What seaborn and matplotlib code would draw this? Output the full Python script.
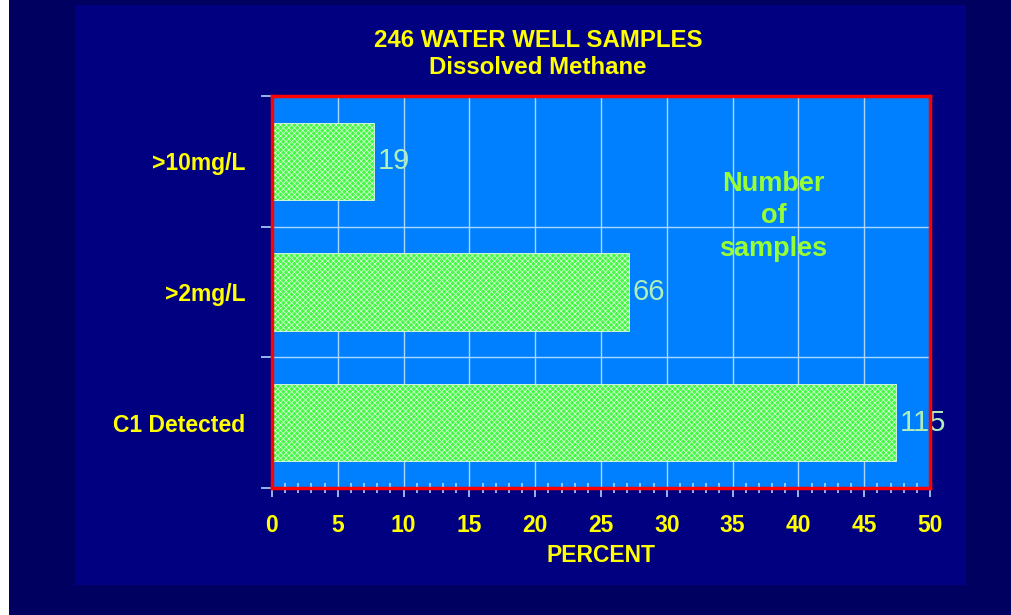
import matplotlib
matplotlib.use("Agg")
import matplotlib.pyplot as plt
import seaborn as sns
import pandas as pd
from matplotlib.patches import Rectangle
from matplotlib.ticker import MultipleLocator, FixedLocator

# data
kategori = [">10mg/L", ">2mg/L", "C1 Detected"]
persen = [7.75, 27.1, 47.4]
jumlah = [19, 66, 115]
xticks = [0, 5, 10, 15, 20, 25, 30, 35, 40, 45, 50]

sns.set_theme(style="white")
plt.rcParams["font.family"] = ["Liberation Sans", "DejaVu Sans"]
plt.rcParams["hatch.linewidth"] = 0.5

biru_grid = "#a8d8ff"
kuning = "#ffff00"

fig = plt.figure(figsize=(10.11, 6.15), dpi=100)
fig.patch.set_facecolor("#000060")
fig.patches.append(Rectangle((0, 0), 9 / 1011, 1, transform=fig.transFigure,
                             facecolor="white", edgecolor="none", zorder=-2))
fig.patches.append(Rectangle((75 / 1011, 30 / 615), 891 / 1011, 580 / 615,
                             transform=fig.transFigure, facecolor="#000080",
                             edgecolor="none", zorder=-2))

ax = fig.add_axes([272 / 1011, 127 / 615, 658 / 1011, 392 / 615])
ax.set_facecolor("#0080ff")

df = pd.DataFrame({"kategori": kategori, "persen": persen})
sns.barplot(data=df, x="persen", y="kategori", orient="h", color="#44f844",
            width=0.59, ax=ax, zorder=2)
for p in ax.patches:
    p.set_facecolor("#44f844")
    p.set_edgecolor("#e0ffe0")
    p.set_hatch("xxxxxx")
    p.set_linewidth(0.6)

ax.set_xlim(0, 50)
ax.set_ylim(2.5, -0.5)
ax.set_xticks(xticks)
ax.xaxis.set_minor_locator(MultipleLocator(1))
ax.yaxis.set_minor_locator(FixedLocator([-0.5, 0.5, 1.5, 2.5]))

ax.grid(True, axis="x", which="major", color=biru_grid, linewidth=1.0, zorder=1)
ax.grid(True, axis="y", which="minor", color=biru_grid, linewidth=1.0, zorder=1)
ax.set_axisbelow(True)

ax.tick_params(which="both", bottom=True, left=True, top=False, right=False)
ax.tick_params(axis="x", which="major", direction="out", length=6.5, width=1.2,
               color=biru_grid, labelsize=16.5, labelcolor=kuning, pad=12)
ax.tick_params(axis="x", which="minor", direction="inout", length=7, width=1.2,
               color=biru_grid)
ax.tick_params(axis="y", which="major", length=0, labelsize=16.5,
               labelcolor=kuning, pad=19)
ax.tick_params(axis="y", which="minor", direction="out", length=8, width=1.2,
               color=biru_grid)
for lbl in ax.get_xticklabels() + ax.get_yticklabels():
    lbl.set_fontweight("bold")

for s in ax.spines.values():
    s.set_color("#ff0000")
    s.set_linewidth(2.5)
    s.set_visible(True)

ax.set_ylabel("")
ax.set_xlabel("PERCENT", color=kuning, fontsize=16.5, fontweight="bold", labelpad=5)

for i, (v, n) in enumerate(zip(persen, jumlah)):
    ax.text(v + 0.3, i, str(n), color="#b0f0b8", fontsize=21,
            ha="left", va="center", zorder=2)

ax.text(38.1, 0.42, "Number\nof\nsamples", color="#99ff33", fontsize=19.5,
        fontweight="bold", ha="center", va="center", linespacing=1.32, zorder=3)

fig.text(538 / 1011, 561 / 615, "246 WATER WELL SAMPLES\nDissolved Methane",
         color=kuning, fontsize=17.3, fontweight="bold", ha="center",
         va="center", linespacing=1.2)

fig.savefig("out.png", dpi=100, facecolor=fig.get_facecolor())
